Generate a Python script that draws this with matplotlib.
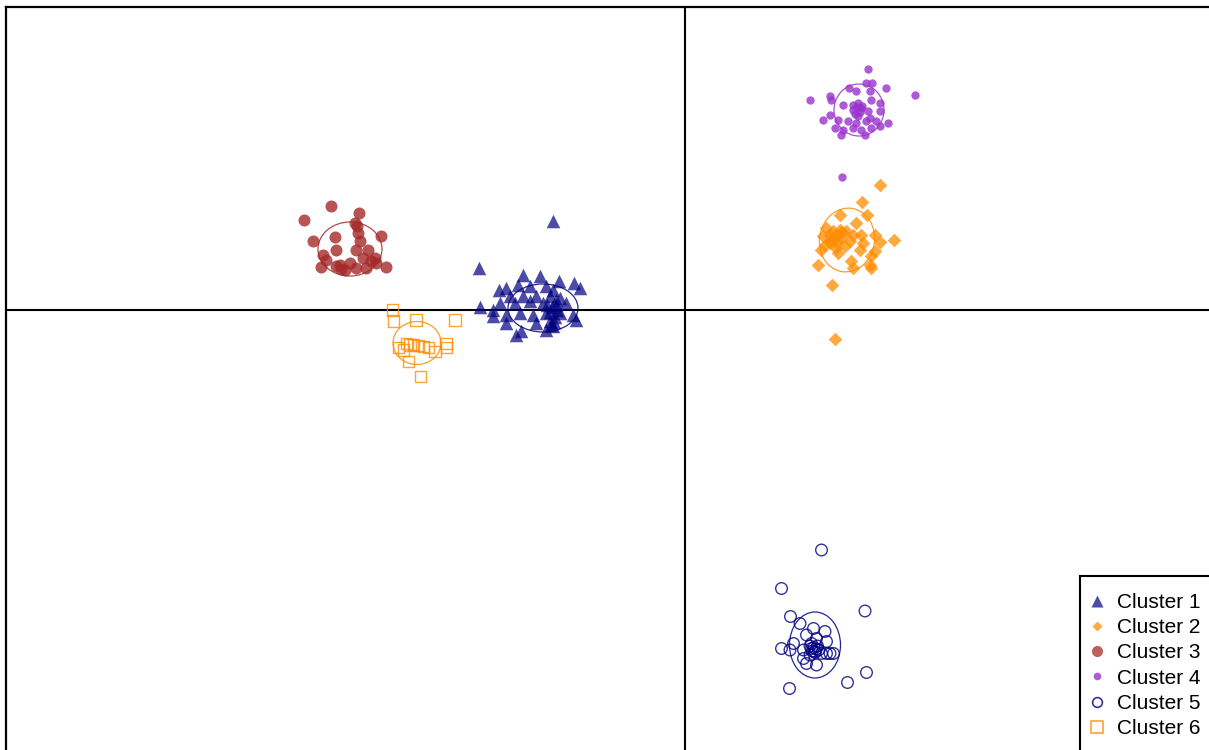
import matplotlib.pyplot as plt
import numpy as np
from matplotlib.patches import Ellipse, Rectangle
from matplotlib.lines import Line2D

plt.rcParams['font.family'] = ['Liberation Sans', 'DejaVu Sans']

# discriminant function scores (LD1, LD2) per cluster
c1_ld1 = [-2.63, -4.11, -4.09, -3.23, -2.90, -2.51, -2.22, -2.09, -3.71, -3.57, -3.33, -3.10, -2.77,
          -2.63, -3.50, -3.23, -2.97, -2.70, -2.50, -3.70, -3.40, -3.10, -2.83, -2.57, -2.37, -3.83,
          -3.57, -3.30, -3.03, -2.77, -2.50, -2.23, -2.17, -2.97, -2.70, -3.27, -3.37, -2.77, -2.63,
          -3.57, -3.83, -2.65, -2.60, -2.70, -2.55, -2.62, -2.75, -2.58, -2.68]
c1_ld2 = [1.77, 0.83, 0.05, 0.70, 0.67, 0.57, 0.53, 0.43, 0.40, 0.43, 0.50, 0.47, 0.47,
          0.40, 0.27, 0.27, 0.27, 0.27, 0.23, 0.13, 0.13, 0.17, 0.13, 0.10, 0.13, -0.13,
          -0.10, -0.07, -0.10, -0.07, -0.07, -0.10, -0.20, -0.27, -0.23, -0.43, -0.50, -0.40, -0.33,
          -0.27, 0.00, 0.05, -0.15, -0.05, 0.00, -0.25, 0.10, 0.20, -0.30]

c2_ld1 = [3.91, 3.55, 3.10, 3.65, 3.43, 2.83, 2.97, 3.10, 3.23, 3.37, 3.53, 2.77, 2.93, 3.13,
          3.30, 3.57, 3.80, 3.91, 4.18, 2.73, 3.03, 3.20, 3.50, 3.07, 3.80, 3.73, 3.33, 2.67,
          3.37, 3.70, 3.73, 2.95, 3.00, 2.90, 2.80, 3.00, 3.15, 2.90, 3.05]
c2_ld2 = [2.50, 2.15, 1.90, 1.90, 1.73, 1.63, 1.57, 1.60, 1.57, 1.50, 1.50, 1.47, 1.40, 1.43,
          1.37, 1.33, 1.50, 1.35, 1.40, 1.20, 1.23, 1.27, 1.20, 1.13, 1.17, 1.07, 0.97, 0.90,
          0.83, 0.90, 0.83, 0.50, -0.58, 1.33, 1.30, 1.45, 1.55, 1.50, 1.35]

c3_ld1 = [-7.07, -7.62, -6.52, -6.60, -6.56, -6.54, -6.07, -7.44, -7.00, -6.49, -6.97, -6.58, -6.34,
          -7.24, -7.17, -6.44, -6.20, -6.27, -5.97, -7.28, -6.90, -6.87, -6.70, -6.58, -6.37, -6.17,
          -6.80, -6.97]
c3_ld2 = [2.08, 1.79, 1.94, 1.74, 1.68, 1.54, 1.47, 1.37, 1.45, 1.38, 1.20, 1.20, 1.20,
          1.10, 1.00, 1.04, 1.04, 0.97, 0.86, 0.86, 0.90, 0.82, 0.94, 0.84, 0.84, 0.94,
          0.80, 0.87]

c4_ld1 = [3.67, 4.60, 2.50, 3.29, 3.63, 3.75, 4.02, 3.43, 3.70, 2.90, 2.93, 3.17, 3.37, 3.47,
          3.53, 3.73, 3.90, 3.67, 3.90, 2.90, 2.77, 3.07, 3.27, 3.43, 3.63, 3.83, 4.07, 3.90,
          3.00, 3.17, 3.37, 3.53, 3.73, 3.13, 3.60, 3.47, 3.70, 3.37, 3.15, 3.45, 3.50, 3.40, 3.55]
c4_ld2 = [4.81, 4.29, 4.19, 4.43, 4.53, 4.53, 4.43, 4.38, 4.37, 4.27, 4.20, 4.09, 4.10, 4.13,
          4.03, 4.20, 4.13, 3.97, 3.97, 3.90, 3.80, 3.80, 3.77, 3.73, 3.77, 3.77, 3.73, 3.67,
          3.63, 3.60, 3.63, 3.60, 3.63, 3.50, 3.50, 3.87, 3.83, 4.00, 2.65, 4.05, 3.95, 3.92, 4.08]

c5_ld1 = [2.73, 1.93, 3.60, 2.11, 2.30, 2.57, 2.80, 2.63, 2.43, 2.83, 2.17, 1.93, 2.10, 2.37,
          2.53, 2.60, 2.67, 2.73, 2.83, 2.90, 2.97, 2.50, 2.37, 2.63, 2.43, 3.63, 3.25, 2.09,
          2.53, 2.58, 2.62, 2.55, 2.65, 2.60, 2.50]
c5_ld2 = [-4.80, -5.57, -6.02, -6.13, -6.27, -6.37, -6.43, -6.57, -6.50, -6.63, -6.67, -6.77, -6.80, -6.80,
          -6.77, -6.83, -6.80, -6.87, -6.87, -6.87, -6.87, -6.90, -6.97, -7.10, -7.07, -7.25, -7.45, -7.57,
          -6.67, -6.75, -6.78, -6.82, -6.72, -6.85, -6.72]

c6_ld1 = [-5.85, -5.83, -5.38, -4.60, -5.73, -5.57, -5.50, -5.43, -5.33, -5.23, -5.13, -5.00,
          -4.78, -4.77, -5.53, -5.29, -5.63]
c6_ld2 = [0.00, -0.22, -0.20, -0.20, -0.75, -0.67, -0.70, -0.69, -0.71, -0.73, -0.75, -0.83,
          -0.67, -0.75, -1.03, -1.33, -0.80]

# inertia ellipses: centre, width, height, angle
ell_centre = [(-2.84, 0.04), (3.24, 1.40), (-6.70, 1.22), (3.48, 4.00), (2.60, -6.70), (-5.36, -0.66)]
ell_width = [1.40, 1.10, 1.28, 1.00, 1.02, 0.96]
ell_height = [0.96, 1.28, 1.08, 1.04, 1.32, 0.86]
ell_angle = [0, -10, 0, 0, 0, 0]

labels = ['Cluster 1', 'Cluster 2', 'Cluster 3', 'Cluster 4', 'Cluster 5', 'Cluster 6']

W, H = 1209, 750
fig = plt.figure(figsize=(W / 100, H / 100), dpi=100)
ax = fig.add_axes([6 / W, 0, 1 - 6 / W, 1 - 7 / H])
ax.set_xlim(-13.58, 10.48)
ax.set_ylim(-8.8, 6.06)
ax.set_xticks([])
ax.set_yticks([])
for s in ['right', 'bottom']:
    ax.spines[s].set_visible(False)
for s in ['left', 'top']:
    ax.spines[s].set_linewidth(1.6)

ax.axhline(0, color='black', lw=1.5, zorder=1)
ax.axvline(0, color='black', lw=1.5, zorder=1)

styles = [
    dict(marker='^', s=95, c='navy', alpha=0.7, linewidths=0),
    dict(marker='D', s=48, c='darkorange', alpha=0.75, linewidths=0),
    dict(marker='o', s=75, c='#a52a2a', alpha=0.8, linewidths=0),
    dict(marker='o', s=36, c='darkorchid', alpha=0.8, linewidths=0),
    dict(marker='o', s=70, facecolors='none', edgecolors='navy', alpha=0.8, linewidths=1.0),
    dict(marker='s', s=70, facecolors='none', edgecolors='darkorange', alpha=0.8, linewidths=1.0),
]
ell_cols = ['navy', 'darkorange', '#a52a2a', 'darkorchid', 'navy', 'darkorange']

data = [(c1_ld1, c1_ld2), (c2_ld1, c2_ld2), (c3_ld1, c3_ld2),
        (c4_ld1, c4_ld2), (c5_ld1, c5_ld2), (c6_ld1, c6_ld2)]

for i, (x, y) in enumerate(data):
    ax.scatter(x, y, zorder=3, **styles[i])
    e = Ellipse(ell_centre[i], ell_width[i], ell_height[i], angle=ell_angle[i],
                fill=False, ec=ell_cols[i], lw=0.9, alpha=0.85, zorder=2)
    ax.add_patch(e)

# legend
handles = [
    Line2D([], [], ls='none', marker='^', ms=8, mfc='navy', mec='none', alpha=0.7),
    Line2D([], [], ls='none', marker='D', ms=5.5, mfc='darkorange', mec='none', alpha=0.75),
    Line2D([], [], ls='none', marker='o', ms=8, mfc='#a52a2a', mec='none', alpha=0.75),
    Line2D([], [], ls='none', marker='o', ms=5.5, mfc='darkorchid', mec='none', alpha=0.8),
    Line2D([], [], ls='none', marker='o', ms=7, mfc='none', mec='navy', mew=1.2, alpha=0.8),
    Line2D([], [], ls='none', marker='s', ms=8, mfc='none', mec='darkorange', mew=1.2, alpha=0.8),
]
fig.legend(handles, labels, loc='upper left', bbox_to_anchor=(1089 / W, 1 - 593 / H),
           frameon=False, fontsize=15, handlelength=0.8, handletextpad=0.55,
           labelspacing=0.3, borderpad=0, borderaxespad=0)
fig.patches.append(Rectangle((1080 / W, -0.1), 0.2, 0.1 + (750 - 576) / H, transform=fig.transFigure,
                             fill=False, ec='black', lw=1.5, clip_on=False))

plt.savefig('out.png', dpi=100)
